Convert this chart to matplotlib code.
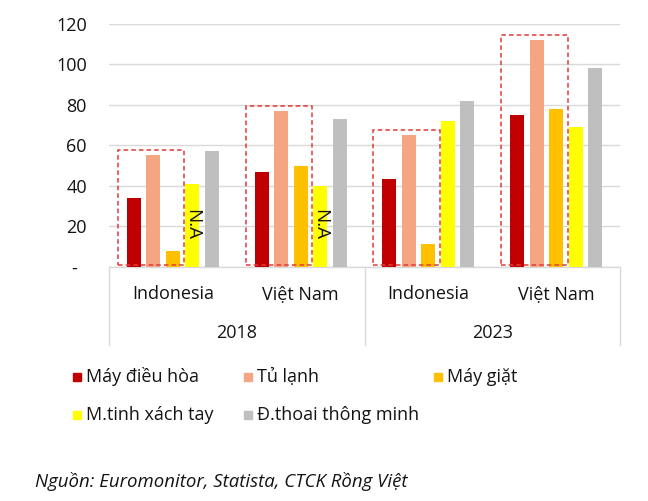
import matplotlib
matplotlib.use("Agg")
import matplotlib.pyplot as plt
from matplotlib.patches import Rectangle
import matplotlib.transforms as mtransforms

plt.rcParams['font.family'] = ['Open Sans', 'DejaVu Sans']

# ---- data ----
countries = ["Indonesia", "Việt Nam", "Indonesia", "Việt Nam"]
years = ["2018", "2023"]
series = ["Máy điều hòa", "Tủ lạnh", "Máy giặt", "M.tinh xách tay", "Đ.thoai thông minh"]
colors = ["#C00000", "#F4A582", "#FFC000", "#FFFF00", "#BFBFBF"]
may_dieu_hoa = [34, 47, 43.5, 75]
tu_lanh = [55, 77, 65, 112]
may_giat = [8, 50, 11, 78]
may_tinh = [41, 40, 72, 69]
dien_thoai = [57, 73, 82, 98]
values = [may_dieu_hoa, tu_lanh, may_giat, may_tinh, dien_thoai]
na_labels = [True, True, False, False]   # laptop data marked N.A
yticks = [0, 20, 40, 60, 80, 100, 120]
ytick_labels = ["-  ", "20", "40", "60", "80", "100", "120"]
source = "Nguồn: Euromonitor, Statista, CTCK Rồng Việt"

TXT = "#141414"
W, H = 648, 501
fig = plt.figure(figsize=(W / 100, H / 100), dpi=100)
ax = fig.add_axes([109 / W, 1 - 266.7 / H, (620 - 109) / W, (266.7 - 24) / H])

pitch = 0.153
bw = 0.11
xs = list(range(len(countries)))
for j, (vals, c) in enumerate(zip(values, colors)):
    ax.bar([x + (j - 2) * pitch for x in xs], vals, width=bw, color=c, zorder=3)

# dashed highlight boxes around the first three bars
for i in xs:
    top = max(v[i] for v in values[:3]) + 2.5
    x0 = i - 0.43
    ax.add_patch(Rectangle((x0, 0.6), 0.52, top - 0.6, fill=False,
                           edgecolor="#E23A3A", linestyle=(0, (3, 2)),
                           linewidth=1.1, zorder=4))

# N.A labels
for i in xs:
    if na_labels[i]:
        ax.text(i + 1 * pitch, 21, "N.A", rotation=270, ha="center", va="center",
                fontsize=13.5, color=TXT, zorder=5)

ax.set_xlim(-0.5, 3.5)
ax.set_ylim(0, 120)
ax.set_yticks(yticks)
ax.set_yticklabels(ytick_labels)
ax.tick_params(axis="y", length=0, pad=16, labelsize=13, labelcolor=TXT)
ax.yaxis.grid(True, color="#D9D9D9", linewidth=1, zorder=0)
ax.set_axisbelow(True)
for s in ["left", "right", "top"]:
    ax.spines[s].set_visible(False)
ax.spines["bottom"].set_color("#D9D9D9")
ax.spines["bottom"].set_linewidth(1)

ax.set_xticks(xs)
ax.set_xticklabels(countries)
ax.tick_params(axis="x", length=0, pad=13, labelsize=13, labelcolor=TXT)

trans = mtransforms.blended_transform_factory(ax.transData, ax.transAxes)
for k, yr in enumerate(years):
    ax.text(2 * k + 0.5, -0.275, yr, transform=trans, ha="center", va="center",
            fontsize=13, color=TXT)
for xa in [0, 0.5, 1]:
    ax.plot([xa, xa], [0, -0.323], transform=ax.transAxes, color="#D9D9D9",
            linewidth=1, clip_on=False)

# legend
leg_pos = [(76.7, 376.7), (248, 376.7), (438, 376.7), (76.7, 415), (248, 415)]
for (lx, ly), name, c in zip(leg_pos, series, colors):
    fig.patches.append(Rectangle(((lx - 4) / W, 1 - (ly + 4) / H), 8 / W, 8 / H,
                                 transform=fig.transFigure, color=c))
    fig.text((lx + 9) / W, 1 - ly / H, name, ha="left", va="center",
             fontsize=13, color=TXT)

fig.text(35 / W, 1 - 481.7 / H, source, ha="left", va="center", fontsize=13.4,
         style="italic", color=TXT)

fig.savefig("out.png", dpi=100)
